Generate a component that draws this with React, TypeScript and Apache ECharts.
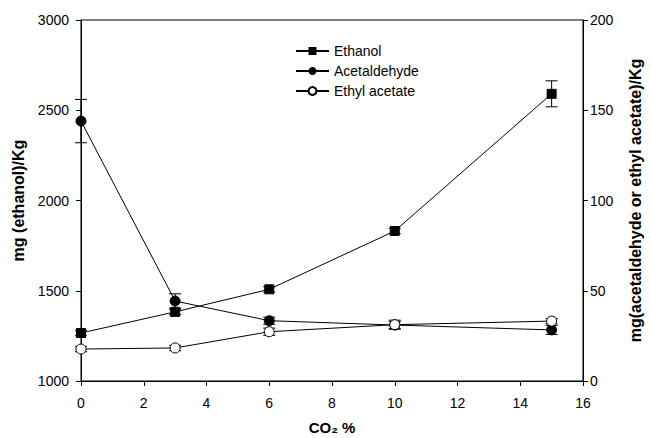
import React, { useEffect, useRef } from "react";
import * as echarts from "echarts";

const co2 = [0, 3, 6, 10, 15];
const ethanol = [1266, 1383, 1508, 1831, 2591];
const ethanolErr = [15, 15, 15, 15, 72];
const acetaldehyde = [144, 44.3, 33.4, 31, 28.3];
const acetaldehydeErr = [12, 4, 2, 2, 2.5];
const ethylAcetate = [17.7, 18.3, 27.3, 31.2, 33.2];
const ethylAcetateErr = [1.5, 1.5, 2, 2.5, 1.5];

const FONT = "Liberation Sans, Arial, sans-serif";

function errSeries(vals: number[], errs: number[], yAxisIndex: number) {
  const data = co2.map((x, i) => [x, vals[i] - errs[i], vals[i] + errs[i]]);
  return {
    type: "custom",
    yAxisIndex,
    silent: true,
    z: 1,
    data,
    renderItem: (params: any, api: any) => {
      const x = api.value(0);
      const lo = api.coord([x, api.value(1)]);
      const hi = api.coord([x, api.value(2)]);
      const w = 6;
      const style = { stroke: "#000", lineWidth: 1 };
      return {
        type: "group",
        children: [
          { type: "line", shape: { x1: lo[0], y1: lo[1], x2: hi[0], y2: hi[1] }, style },
          { type: "line", shape: { x1: lo[0] - w, y1: lo[1], x2: lo[0] + w, y2: lo[1] }, style },
          { type: "line", shape: { x1: hi[0] - w, y1: hi[1], x2: hi[0] + w, y2: hi[1] }, style },
        ],
      };
    },
  };
}

export default function App() {
  const ref = useRef<HTMLDivElement>(null);
  useEffect(() => {
    const chart = echarts.init(ref.current!, null, { renderer: "svg" });
    const axisText = { color: "#000", fontFamily: FONT, fontSize: 14 };
    const nameStyle = { color: "#000", fontFamily: FONT, fontSize: 16, fontWeight: "bold" };
    const fmt = (v: number) => String(v);
    chart.setOption({
      animation: false,
      backgroundColor: "#fff",
      grid: {
        left: 81,
        right: 68,
        top: 20,
        bottom: 57,
        show: true,
        borderColor: "#000",
        borderWidth: 1,
        containLabel: false,
        outerBoundsMode: "none",
      },
      legend: {
        left: 290,
        top: 39,
        orient: "vertical",
        itemGap: 6,
        itemWidth: 33,
        itemHeight: 10,
        textStyle: { color: "#000", fontFamily: FONT, fontSize: 14 },
        data: ["Ethanol", "Acetaldehyde", "Ethyl acetate"],
      },
      xAxis: {
        type: "value",
        min: 0,
        max: 16,
        interval: 2,
        name: "CO₂ %",
        nameLocation: "middle",
        nameGap: 39,
        nameTextStyle: { ...nameStyle, fontSize: 15 },
        axisLine: { lineStyle: { color: "#000", width: 1 } },
        axisTick: { inside: false, length: 5, lineStyle: { color: "#000" } },
        axisLabel: { ...axisText, margin: 15, formatter: fmt },
        splitLine: { show: false },
      },
      yAxis: [
        {
          type: "value",
          min: 1000,
          max: 3000,
          interval: 500,
          position: "left",
          name: "mg (ethanol)/Kg",
          nameLocation: "middle",
          nameGap: 48,
          nameTextStyle: nameStyle,
          axisLine: { show: true, lineStyle: { color: "#000", width: 1 } },
          axisTick: { show: true, length: 5, lineStyle: { color: "#000" } },
          axisLabel: { ...axisText, margin: 12, formatter: fmt },
          splitLine: { show: false },
        },
        {
          type: "value",
          min: 0,
          max: 200,
          interval: 50,
          position: "right",
          name: "mg(acetaldehyde or ethyl acetate)/Kg",
          nameLocation: "middle",
          nameGap: 44,
          nameTextStyle: nameStyle,
          axisLine: { show: true, lineStyle: { color: "#000", width: 1 } },
          axisTick: { show: true, length: 5, lineStyle: { color: "#000" } },
          axisLabel: { ...axisText, margin: 7, formatter: fmt },
          splitLine: { show: false },
        },
      ],
      series: [
        errSeries(ethanol, ethanolErr, 0),
        errSeries(acetaldehyde, acetaldehydeErr, 1),
        errSeries(ethylAcetate, ethylAcetateErr, 1),
        {
          name: "Ethanol",
          type: "line",
          yAxisIndex: 0,
          data: co2.map((x, i) => [x, ethanol[i]]),
          symbol: "rect",
          symbolSize: 9,
          lineStyle: { color: "#000", width: 1 },
          itemStyle: { color: "#000", borderColor: "#000" },
          z: 3,
        },
        {
          name: "Acetaldehyde",
          type: "line",
          yAxisIndex: 1,
          data: co2.map((x, i) => [x, acetaldehyde[i]]),
          symbol: "circle",
          symbolSize: 10,
          lineStyle: { color: "#000", width: 1 },
          itemStyle: { color: "#000", borderColor: "#000" },
          z: 3,
        },
        {
          name: "Ethyl acetate",
          type: "line",
          yAxisIndex: 1,
          data: co2.map((x, i) => [x, ethylAcetate[i]]),
          symbol: "circle",
          symbolSize: 10,
          lineStyle: { color: "#000", width: 1 },
          itemStyle: { color: "#fff", borderColor: "#000", borderWidth: 1 },
          z: 3,
        },
      ],
    });
    return () => chart.dispose();
  }, []);
  return <div ref={ref} style={{ width: 651, height: 438, position: "absolute", left: 0, top: 0 }} />;
}
